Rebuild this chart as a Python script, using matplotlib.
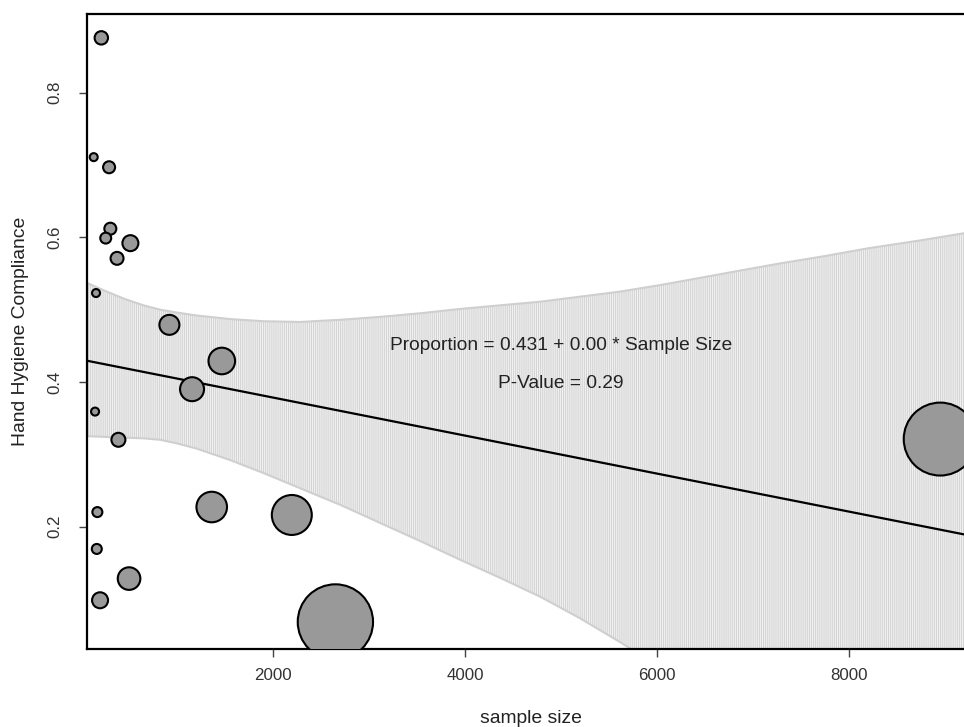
import matplotlib
matplotlib.use("Agg")
import matplotlib.pyplot as plt
import numpy as np

plt.rcParams['font.family'] = ['Liberation Sans', 'DejaVu Sans']
plt.rcParams['hatch.linewidth'] = 0.8

# studies: sample size, compliance proportion, relative weight (bubble area)
sample_size = [211, 132, 292, 305, 257, 514, 375, 156, 920, 1466, 1156,
               146, 389, 1361, 2195, 170, 164, 500, 198, 2649, 8948]
compliance = [0.876, 0.711, 0.697, 0.612, 0.599, 0.592, 0.571, 0.523, 0.479,
              0.429, 0.390, 0.359, 0.320, 0.227, 0.216, 0.220, 0.169, 0.128,
              0.098, 0.068, 0.321]
weight = [45, 16, 36, 36, 30, 64, 42, 16, 100, 177, 144,
          16, 49, 234, 400, 25, 25, 128, 64, 1420, 1332]

# fitted line and confidence band
fit_intercept = 0.431
fit_slope = -0.0000263
band_x = [62, 250, 450, 650, 823, 1000, 1200, 1552, 1900, 2281, 2700, 3115,
          3531, 3948, 4365, 4781, 5198, 5615, 6030, 6448, 6860, 7281, 7740,
          8200, 8750, 9300]
band_upper = [0.537, 0.526, 0.515, 0.506, 0.500, 0.496, 0.492, 0.487, 0.484,
              0.483, 0.486, 0.490, 0.495, 0.501, 0.506, 0.511, 0.518, 0.525,
              0.534, 0.544, 0.554, 0.564, 0.574, 0.585, 0.596, 0.608]
band_lower = [0.325, 0.324, 0.323, 0.322, 0.320, 0.315, 0.308, 0.292, 0.274,
              0.253, 0.230, 0.205, 0.180, 0.154, 0.129, 0.103, 0.073, 0.040,
              0.006, -0.029, -0.061, -0.094, -0.132, -0.170, -0.210, -0.250]

fig = plt.figure(figsize=(9.64, 7.27), dpi=100)
ax = fig.add_axes([87 / 964, 78 / 727, 887 / 964, 635 / 727])

ax.fill_between(band_x, band_lower, band_upper, facecolor='#f3f3f3',
                edgecolor='#d4d4d4', hatch='||||||||', linewidth=0, zorder=1)
ax.plot(band_x, band_upper, color='#cfcfcf', lw=1.5, zorder=1.5)
ax.plot(band_x, band_lower, color='#cfcfcf', lw=1.5, zorder=1.5)

xs = np.array([62, 9300])
ax.plot(xs, fit_intercept + fit_slope * xs, color='black', lw=1.6, zorder=2)

sizes = [2.07 * w for w in weight]
ax.scatter(sample_size, compliance, s=sizes, c='#999999', edgecolors='black',
           linewidths=1.5, zorder=3)

ax.text(5000, 0.45, 'Proportion = 0.431 + 0.00 * Sample Size', ha='center',
        va='center', fontsize=13.8, color='#222222', zorder=4)
ax.text(5000, 0.398, 'P-Value = 0.29', ha='center', va='center',
        fontsize=13.8, color='#222222', zorder=4)

ax.set_xlim(62, 9300)
ax.set_ylim(0.0306, 0.909)
ax.set_xticks([2000, 4000, 6000, 8000])
ax.set_yticks([0.2, 0.4, 0.6, 0.8])
ax.set_yticklabels(['0.2', '0.4', '0.6', '0.8'], rotation=90, va='center')
ax.tick_params(axis='both', direction='out', length=6, width=1,
               color='#444444', labelsize=12.2, labelcolor='#333333')
ax.tick_params(axis='x', pad=8)
ax.tick_params(axis='y', pad=12)

for s in ax.spines.values():
    s.set_linewidth(1.6)
    s.set_color('black')

ax.set_xlabel('sample size', fontsize=13.9, labelpad=19, color='#222222')
ax.set_ylabel('Hand Hygiene Compliance', fontsize=13.9, labelpad=13,
              color='#222222')

fig.savefig('out.png', dpi=100)
